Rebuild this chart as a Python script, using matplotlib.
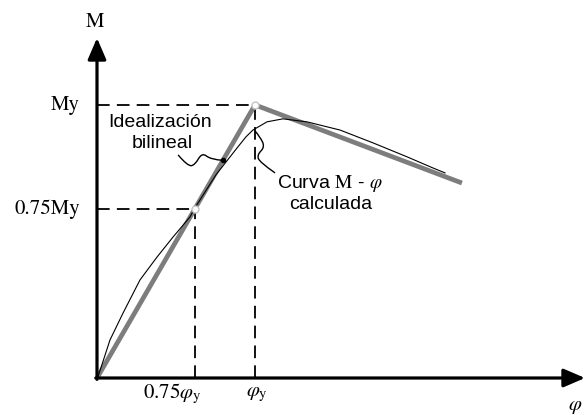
import matplotlib
matplotlib.use("Agg")
import matplotlib.pyplot as plt
from matplotlib.path import Path
from matplotlib.patches import PathPatch

plt.rcParams['mathtext.fontset'] = 'stix'

# curvature (normalised by phi_y) and moment (normalised by My)
phi_y, My = 1.0, 1.0
phi_75, M_75 = 0.62, 0.62

# bilinear idealisation
bil_phi = [0.0, phi_y, 2.31]
bil_M = [0.0, My, 0.714]

# calculated M-phi curve
calc_phi = [0.0, 0.006, 0.082, 0.165, 0.272, 0.380, 0.481, 0.589, 0.620, 0.753,
            0.886, 0.943, 0.987, 1.076, 1.177, 1.329, 1.538, 1.747, 1.962, 2.127, 2.203]
calc_M = [0.0, 0.004, 0.139, 0.238, 0.359, 0.443, 0.516, 0.590, 0.623, 0.744,
          0.842, 0.883, 0.908, 0.938, 0.949, 0.938, 0.908, 0.861, 0.810, 0.769, 0.751]

# wiggly leader lines for the two notes
lead_bil = [(0.513, 0.817), (0.575, 0.775), (0.62, 0.78), (0.665, 0.826),
            (0.72, 0.80), (0.797, 0.797)]
lead_calc = [(1.127, 0.751), (1.03, 0.79), (1.013, 0.817), (1.063, 0.846),
             (1.032, 0.883), (1.0, 0.905)]

x_max, y_max = 3.089, 1.245

fig = plt.figure(figsize=(5.87, 4.15), dpi=100)
ax = fig.add_axes([97 / 587, 37 / 415, 488 / 587, 340 / 415])
ax.set_xlim(0, x_max)
ax.set_ylim(0, y_max)
ax.axis('off')


def leader(pts):
    # smooth the control points with quadratic bezier pieces
    verts = [pts[0]]
    codes = [Path.MOVETO]
    for i in range(1, len(pts) - 1):
        mid = ((pts[i][0] + pts[i + 1][0]) / 2, (pts[i][1] + pts[i + 1][1]) / 2)
        if i == len(pts) - 2:
            mid = pts[i + 1]
        verts += [pts[i], mid]
        codes += [Path.CURVE3, Path.CURVE3]
    ax.add_patch(PathPatch(Path(verts, codes), fill=False, lw=1.0,
                           color='black', zorder=5))


# axes with arrows
arrow = dict(arrowstyle='-|>,head_length=0.65,head_width=0.28', lw=2.3,
             color='black', shrinkA=0, shrinkB=0, mutation_scale=20)
ax.annotate('', xy=(0, y_max), xytext=(0, -0.005), arrowprops=arrow,
            annotation_clip=False)
ax.annotate('', xy=(x_max, 0), xytext=(-0.008, 0), arrowprops=arrow,
            annotation_clip=False)

# dashed guides
dash = dict(color='black', lw=1.3, dashes=(7, 4), zorder=1)
ax.plot([0, phi_y], [My, My], **dash)
ax.plot([phi_y, phi_y], [0, My], **dash)
ax.plot([0, phi_75], [M_75, M_75], **dash)
ax.plot([phi_75, phi_75], [0, M_75], **dash)

# bilinear idealisation and calculated curve
ax.plot(bil_phi, bil_M, color='#7d7d7d', lw=3.4, solid_capstyle='butt', zorder=2)
ax.plot(calc_phi, calc_M, color='black', lw=0.8, zorder=3)
ax.plot([phi_75, phi_y], [M_75, My], 'o', ms=5, mfc='white', mec='#c4c4c4',
        mew=1.0, zorder=4)

leader(lead_bil)
leader(lead_calc)
ax.plot([0.797], [0.797], 'o', ms=3, color='black', zorder=5)

# labels
serif = dict(family='STIXGeneral', fontsize=15, color='black')
sans = dict(family='Liberation Sans', fontsize=14, color='black')
ax.text(-0.013, 1.304, 'M', ha='center', va='center', clip_on=False, **serif)
ax.text(-0.108, My, 'My', ha='right', va='center', clip_on=False, **serif)
ax.text(-0.108, M_75, '0.75My', ha='right', va='center', clip_on=False, **serif)
ax.text(0.475, -0.06, r'$0.75\varphi_{\mathrm{y}}$', ha='center', va='center',
        clip_on=False, **serif)
ax.text(1.01, -0.06, r'$\varphi_{\mathrm{y}}$', ha='center', va='center',
        clip_on=False, **serif)
ax.text(3.025, -0.103, r'$\varphi$', ha='center', va='center', clip_on=False,
        **serif)

ax.text(0.40, 0.934, 'Idealización', ha='center', va='center', **sans)
ax.text(0.41, 0.857, 'bilineal', ha='center', va='center', **sans)
ax.text(1.139, 0.714, r'Curva $\mathrm{M}$ - $\varphi$', ha='left', va='center',
        **sans)
ax.text(1.481, 0.634, 'calculada', ha='center', va='center', **sans)

fig.savefig('out.png', dpi=100)
